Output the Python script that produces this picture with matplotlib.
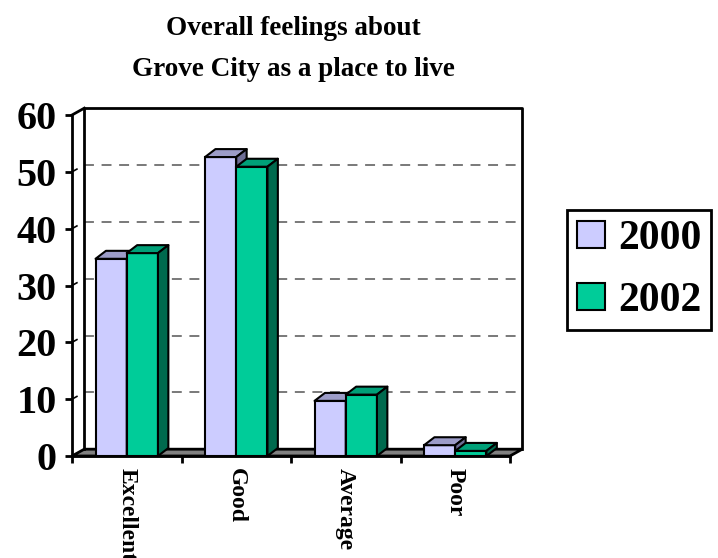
import matplotlib
matplotlib.use("Agg")
import matplotlib.pyplot as plt
from matplotlib.patches import Polygon, Patch

# survey results (percent)
categories = ["Excellent", "Good", "Average", "Poor"]
years = ["2000", "2002"]
vals_2000 = [34.7, 52.6, 9.7, 1.9]
vals_2002 = [35.7, 50.9, 10.8, 0.9]
yticks = [0, 10, 20, 30, 40, 50, 60]

front_cols = ["#CCCCFF", "#00CC99"]
top_cols = ["#9C9CC8", "#00A078"]
side_cols = ["#6E6E96", "#006A4E"]

serif = "Liberation Serif"

fig = plt.figure(figsize=(7.18, 5.58), dpi=100)
ax = fig.add_axes([72 / 718, 102 / 558, 438 / 718, 341 / 558])
ax.set_xlim(0, len(categories))
ax.set_ylim(0, 60)

n = len(categories)
# 3d offsets (data units)
wdx, wdy = 0.112, 1.2   # back wall
bdx, bdy = 0.095, 1.4   # bar depth
w = 0.285
lw = 1.5
alw = 2.0

# back wall outline + floor
ax.add_patch(Polygon([(0, 0), (n, 0), (n + wdx, wdy), (wdx, wdy)], closed=True,
                     facecolor="#808080", edgecolor="black", lw=alw, zorder=1, clip_on=False))
ax.plot([wdx, wdx, n + wdx, n + wdx], [wdy, 60 + wdy, 60 + wdy, wdy],
        color="black", lw=alw, zorder=1, clip_on=False)
ax.plot([0, wdx], [60, 60 + wdy], color="black", lw=alw, zorder=1, clip_on=False)
for t in yticks[1:-1]:
    ax.plot([wdx, n + wdx], [t + wdy, t + wdy], color="#555555", lw=1.1,
            linestyle=(0, (6.5, 5)), zorder=0.9, clip_on=False)
    # little slash where the side wall gridline starts
    ax.plot([0, wdx * 0.4], [t, t + wdy * 0.4], color="black", lw=1.2,
            zorder=1, clip_on=False)

# bars
z = 3
for i in range(n):
    c = i + 0.5
    for s, vals in enumerate([vals_2000, vals_2002]):
        v = vals[i]
        x0 = c - w + s * w
        x1 = x0 + w
        ax.bar(x0, v, width=w, align="edge", color=front_cols[s], edgecolor="black",
               linewidth=lw, zorder=z, clip_on=False)
        ax.add_patch(Polygon([(x0, v), (x1, v), (x1 + bdx, v + bdy), (x0 + bdx, v + bdy)],
                             closed=True, facecolor=top_cols[s], edgecolor="black",
                             lw=lw, zorder=z + 0.1, clip_on=False, joinstyle="round"))
        ax.add_patch(Polygon([(x1, 0), (x1, v), (x1 + bdx, v + bdy), (x1 + bdx, bdy)],
                             closed=True, facecolor=side_cols[s], edgecolor="black",
                             lw=lw, zorder=z + 0.2, clip_on=False, joinstyle="round"))
        z += 1

for sp in ["top", "right"]:
    ax.spines[sp].set_visible(False)
for sp in ["left", "bottom"]:
    ax.spines[sp].set_linewidth(alw)
    ax.spines[sp].set_zorder(2)

ax.set_yticks(yticks)
ax.set_yticklabels([str(t) for t in yticks], fontfamily=serif, fontweight="bold", fontsize=29)
ax.tick_params(axis="y", direction="out", length=5, width=alw, pad=6)

ax.set_xticks(range(n + 1))
ax.set_xticklabels([])
ax.tick_params(axis="x", which="major", direction="out", length=5, width=alw)
ax.set_xticks([i + 0.5 for i in range(n)], minor=True)
ax.set_xticklabels(categories, minor=True, rotation=-90, fontfamily=serif,
                   fontweight="bold", fontsize=17)
ax.tick_params(axis="x", which="minor", length=0, pad=9)

title_lines = ["Overall feelings about", "Grove City as a place to live"]
for k, line in enumerate(title_lines):
    fig.text(0.408, 1 - (35 + 41 * k) / 558, line, ha="center", va="baseline",
             fontfamily=serif, fontweight="bold", fontsize=19.5)

handles = [Patch(facecolor=front_cols[k], edgecolor="black", linewidth=lw) for k in range(2)]
leg = fig.legend(handles, years, loc="center left", bbox_to_anchor=(567 / 718, 1 - 270 / 558),
                 prop={"family": serif, "weight": "bold", "size": 30},
                 handlelength=0.68, handleheight=0.63, handletextpad=0.3,
                 labelspacing=0.58, borderpad=0.24, borderaxespad=0, fancybox=False,
                 framealpha=1, edgecolor="black")
leg.get_frame().set_linewidth(alw)

fig.savefig("out.png", dpi=100)
